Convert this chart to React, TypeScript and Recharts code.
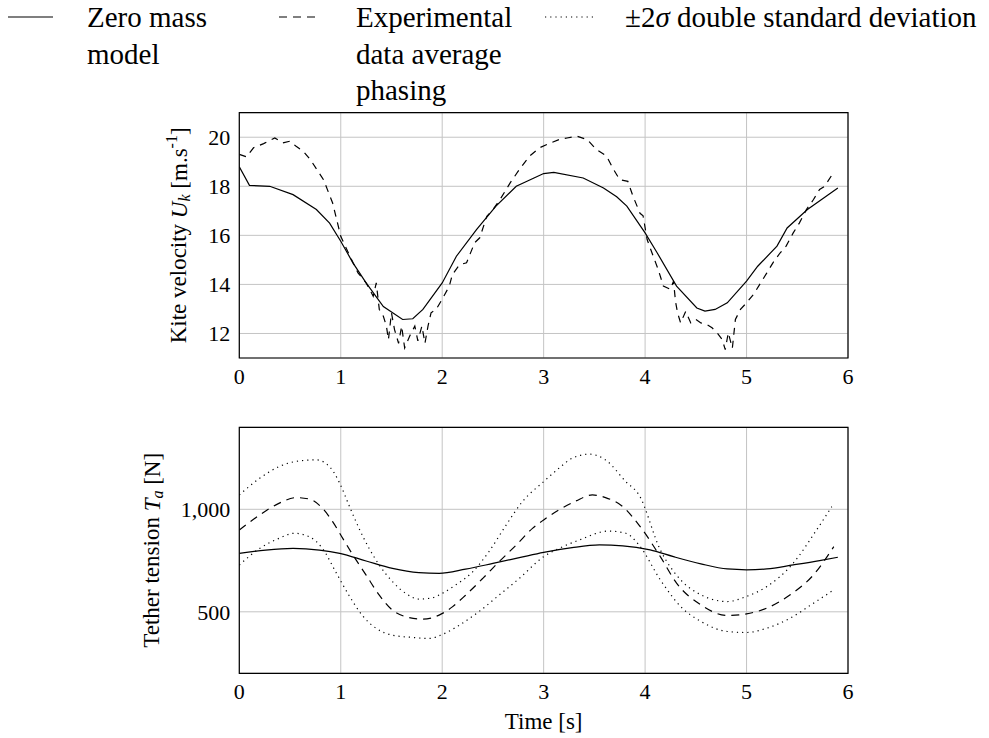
import React from "react";
import {
  LineChart,
  Line,
  XAxis,
  YAxis,
  CartesianGrid,
  ReferenceArea,
} from "recharts";

const FONT = "Liberation Serif, Tinos, Times New Roman, DejaVu Serif, serif";

const timeTicks = [0, 1, 2, 3, 4, 5, 6];
const velocityTicks = [12, 14, 16, 18, 20];
const tensionTicks = [500, 1000];

// top panel: kite velocity [t, U_k]
const velocityModel = [
  [0, 18.79], [0.1, 18.04], [0.3, 18.0], [0.53, 17.66], [0.76, 17.05], [0.89, 16.5],
  [1.0, 15.76], [1.12, 14.88], [1.25, 14.06], [1.42, 13.1], [1.61, 12.57], [1.71, 12.6],
  [1.81, 12.98], [2.0, 14.06], [2.14, 15.15], [2.34, 16.24], [2.53, 17.19], [2.73, 18.0],
  [3.0, 18.52], [3.1, 18.57], [3.39, 18.34], [3.59, 17.93], [3.72, 17.57], [3.82, 17.19],
  [4.0, 16.1], [4.12, 15.28], [4.31, 13.93], [4.51, 13.04], [4.59, 12.91], [4.69, 12.98],
  [4.81, 13.25], [5.0, 14.13], [5.11, 14.74], [5.3, 15.56], [5.4, 16.3], [5.6, 17.05],
  [5.9, 17.93],
];

const velocityExperiment = [
  [0.0, 19.3], [0.07, 19.2], [0.14, 19.57], [0.24, 19.74], [0.35, 19.97], [0.43, 19.77],
  [0.5, 19.84], [0.56, 19.63], [0.63, 19.43], [0.7, 19.09], [0.83, 18.27], [0.92, 17.32],
  [1.0, 15.96], [1.09, 15.15], [1.17, 14.47], [1.25, 14.06], [1.32, 13.52], [1.35, 14.06],
  [1.38, 12.98], [1.42, 12.7], [1.45, 12.3], [1.47, 11.75], [1.5, 12.84], [1.53, 12.16],
  [1.57, 11.6], [1.6, 12.3], [1.63, 11.41], [1.68, 11.9], [1.73, 12.3], [1.76, 11.7],
  [1.8, 12.3], [1.83, 11.6], [1.86, 12.3], [1.89, 12.84], [1.94, 12.98], [2.0, 13.4],
  [2.07, 13.93], [2.1, 14.4], [2.17, 14.8], [2.24, 14.88], [2.32, 15.7], [2.37, 15.9],
  [2.44, 16.78], [2.5, 17.05], [2.57, 17.46], [2.67, 18.14], [2.76, 18.68], [2.86, 19.23],
  [2.96, 19.57], [3.07, 19.77], [3.15, 19.9], [3.23, 19.97], [3.33, 20.04], [3.43, 19.9],
  [3.52, 19.5], [3.62, 19.23], [3.69, 18.68], [3.75, 18.27], [3.83, 18.2], [3.88, 17.6],
  [3.95, 16.9], [3.98, 16.8], [4.02, 15.83], [4.08, 15.15], [4.13, 14.6], [4.18, 13.93],
  [4.25, 13.8], [4.28, 14.13], [4.3, 13.3], [4.32, 12.84], [4.35, 12.43], [4.4, 12.9],
  [4.45, 12.43], [4.5, 12.57], [4.55, 12.43], [4.61, 12.36], [4.66, 12.23], [4.71, 12.03],
  [4.76, 11.75], [4.79, 11.34], [4.82, 12.03], [4.86, 11.4], [4.89, 12.57], [4.94, 12.98],
  [5.0, 13.25], [5.07, 13.6], [5.13, 14.0], [5.2, 14.47], [5.26, 14.88], [5.33, 15.28],
  [5.39, 15.56], [5.46, 16.1], [5.52, 16.5], [5.59, 17.05], [5.66, 17.46], [5.72, 17.87],
  [5.77, 18.0], [5.84, 18.45],
];

// bottom panel: tether tension [t, T_a]
const tensionModel = [
  [0, 785], [0.26, 801], [0.53, 809], [0.79, 801], [0.99, 785], [1.25, 748], [1.51, 712],
  [1.77, 691], [1.97, 687], [2.23, 708], [2.5, 736], [2.76, 764], [3.0, 790], [3.28, 813],
  [3.55, 826], [3.78, 822], [4.05, 802], [4.28, 769], [4.55, 734], [4.81, 709], [5.0, 705],
  [5.2, 709], [5.46, 729], [5.72, 750], [5.9, 766],
];

const tensionExperiment = [
  [0, 899], [0.2, 972], [0.39, 1029], [0.56, 1057], [0.69, 1050], [0.82, 1005], [0.92, 940],
  [1.02, 858], [1.12, 777], [1.25, 679], [1.38, 581], [1.51, 508], [1.64, 476], [1.81, 464],
  [1.97, 484], [2.1, 524], [2.23, 581], [2.4, 663], [2.56, 744], [2.73, 826], [2.89, 907],
  [3.0, 948], [3.15, 997], [3.32, 1041], [3.48, 1070], [3.61, 1057], [3.78, 1013],
  [3.94, 923], [4.15, 769], [4.31, 640], [4.55, 534], [4.81, 482], [5.0, 490], [5.2, 518],
  [5.43, 583], [5.66, 680], [5.86, 818],
];

const tensionUpper = [
  [0, 1070], [0.2, 1151], [0.39, 1208], [0.59, 1236], [0.76, 1241], [0.89, 1208],
  [0.99, 1127], [1.08, 1021], [1.18, 907], [1.28, 809], [1.38, 728], [1.51, 647],
  [1.64, 590], [1.77, 562], [1.9, 568], [2.0, 590], [2.13, 630], [2.3, 695], [2.46, 793],
  [2.63, 923], [2.79, 1037], [3.0, 1135], [3.15, 1200], [3.28, 1249], [3.45, 1269],
  [3.61, 1241], [3.81, 1135], [3.94, 1070], [4.15, 802], [4.35, 656], [4.55, 583],
  [4.81, 550], [5.0, 575], [5.2, 623], [5.46, 737], [5.69, 899], [5.84, 1013],
];

const tensionLower = [
  [0, 728], [0.2, 809], [0.39, 858], [0.54, 883], [0.69, 866], [0.82, 809], [0.95, 695],
  [1.08, 581], [1.21, 484], [1.35, 419], [1.51, 386], [1.71, 375], [1.87, 370], [2.0, 389],
  [2.17, 435], [2.36, 500], [2.56, 581], [2.76, 663], [3.0, 769], [3.15, 809], [3.35, 850],
  [3.64, 894], [3.81, 883], [3.94, 826], [4.15, 656], [4.35, 526], [4.55, 453], [4.81, 404],
  [5.0, 399], [5.2, 420], [5.43, 469], [5.66, 542], [5.86, 607],
];

const toPoints = (pairs: number[][]) => pairs.map(([t, v]) => ({ t, v }));

const tickStyle = { fontSize: 22, fill: "#000", fontFamily: FONT };

const VelocityTitle = (props: any) => {
  const vb = props.viewBox || { y: 112.7, height: 245.3 };
  const cx = 179;
  const cy = vb.y + vb.height / 2;
  return (
    <text
      x={cx}
      y={cy}
      transform={`rotate(-90 ${cx} ${cy})`}
      textAnchor="middle"
      dominantBaseline="central"
      fontFamily={FONT}
      fontSize={23}
      fill="#000"
    >
      Kite velocity <tspan fontStyle="italic">U</tspan>
      <tspan fontStyle="italic" fontSize={16} dy={5}>k</tspan>
      <tspan dy={-5}> [m.s</tspan>
      <tspan fontSize={16} dy={-8}>-1</tspan>
      <tspan dy={8}>]</tspan>
    </text>
  );
};

const TensionTitle = (props: any) => {
  const vb = props.viewBox || { y: 27.3, height: 246 };
  const cx = 152;
  const cy = vb.y + vb.height / 2;
  return (
    <text
      x={cx}
      y={cy}
      transform={`rotate(-90 ${cx} ${cy})`}
      textAnchor="middle"
      dominantBaseline="central"
      fontFamily={FONT}
      fontSize={23}
      fill="#000"
    >
      Tether tension <tspan fontStyle="italic">T</tspan>
      <tspan fontStyle="italic" fontSize={16} dy={5}>a</tspan>
      <tspan dy={-5}> [N]</tspan>
    </text>
  );
};

const TimeTitle = (props: any) => {
  const vb = props.viewBox || { x: 239.3, y: 273.3, width: 608.7 };
  return (
    <text
      x={vb.x + vb.width / 2}
      y={vb.y + 48.4}
      textAnchor="middle"
      dominantBaseline="central"
      fontFamily={FONT}
      fontSize={23}
      fill="#000"
    >
      Time [s]
    </text>
  );
};

const LegendBlock = () => (
  <div
    style={{
      position: "absolute",
      left: 0,
      top: 0,
      width: 989,
      height: 110,
      fontFamily: FONT,
      fontSize: 29,
      lineHeight: "36.7px",
      color: "#000",
    }}
  >
    <svg style={{ position: "absolute", left: 0, top: 0 }} width={989} height={40}>
      <line x1={8} x2={53} y1={17} y2={17} stroke="#000" strokeWidth={1.2} />
      <line x1={279} x2={316} y1={17} y2={17} stroke="#000" strokeWidth={1.2} strokeDasharray="8 6" />
      <line x1={545} x2={593} y1={17} y2={17} stroke="#000" strokeWidth={1.2} strokeDasharray="1.2 4" />
    </svg>
    <div style={{ position: "absolute", left: 87, top: -1, whiteSpace: "nowrap" }}>
      Zero mass
      <br />
      model
    </div>
    <div style={{ position: "absolute", left: 356, top: -1, whiteSpace: "nowrap" }}>
      Experimental
      <br />
      data average
      <br />
      phasing
    </div>
    <div style={{ position: "absolute", left: 625, top: -1, whiteSpace: "nowrap" }}>
      ±2<i>σ</i> double standard deviation
    </div>
  </div>
);

export default function App() {
  return (
    <div
      style={{
        position: "absolute",
        left: 0,
        top: 0,
        width: 989,
        height: 738,
        background: "#fff",
        overflow: "hidden",
      }}
    >
      <LegendBlock />

      <div style={{ position: "absolute", left: 0, top: 0 }}>
        <LineChart
          width={989}
          height={400}
          margin={{ top: 112.7, right: 141, bottom: 2, left: 0 }}
        >
          <CartesianGrid stroke="#c4c4c4" strokeWidth={1} />
          <XAxis
            dataKey="t"
            type="number"
            domain={[0, 6]}
            ticks={timeTicks}
            interval={0}
            tickLine={false}
            axisLine={false}
            tickMargin={4}
            height={40}
            tick={tickStyle}
            allowDataOverflow
          />
          <YAxis
            type="number"
            domain={[11, 21]}
            ticks={velocityTicks}
            interval={0}
            tickLine={false}
            axisLine={false}
            tickMargin={3}
            width={239.3}
            tick={tickStyle}
            allowDataOverflow
            label={VelocityTitle}
          />
          <ReferenceArea x1={0} x2={6} y1={11} y2={21} fill="none" stroke="#000" strokeWidth={1.2} />
          <Line
            data={toPoints(velocityModel)}
            dataKey="v"
            type="linear"
            stroke="#000"
            strokeWidth={1.2}
            dot={false}
            activeDot={false}
            isAnimationActive={false}
          />
          <Line
            data={toPoints(velocityExperiment)}
            dataKey="v"
            type="linear"
            stroke="#000"
            strokeWidth={1.2}
            strokeDasharray="7 6"
            dot={false}
            activeDot={false}
            isAnimationActive={false}
          />
        </LineChart>
      </div>

      <div style={{ position: "absolute", left: 0, top: 400 }}>
        <LineChart
          width={989}
          height={338}
          margin={{ top: 27.3, right: 141, bottom: 4.7, left: 0 }}
        >
          <CartesianGrid stroke="#c4c4c4" strokeWidth={1} />
          <XAxis
            dataKey="t"
            type="number"
            domain={[0, 6]}
            ticks={timeTicks}
            interval={0}
            tickLine={false}
            axisLine={false}
            tickMargin={4}
            height={60}
            tick={tickStyle}
            allowDataOverflow
            label={TimeTitle}
          />
          <YAxis
            type="number"
            domain={[200, 1400]}
            ticks={tensionTicks}
            interval={0}
            tickLine={false}
            axisLine={false}
            tickMargin={3}
            width={239.3}
            tick={tickStyle}
            tickFormatter={(v: number) => v.toLocaleString("en-US")}
            allowDataOverflow
            label={TensionTitle}
          />
          <ReferenceArea x1={0} x2={6} y1={200} y2={1400} fill="none" stroke="#000" strokeWidth={1.2} />
          <Line
            data={toPoints(tensionUpper)}
            dataKey="v"
            type="monotone"
            stroke="#000"
            strokeWidth={1.2}
            strokeDasharray="1.2 4"
            dot={false}
            activeDot={false}
            isAnimationActive={false}
          />
          <Line
            data={toPoints(tensionLower)}
            dataKey="v"
            type="monotone"
            stroke="#000"
            strokeWidth={1.2}
            strokeDasharray="1.2 4"
            dot={false}
            activeDot={false}
            isAnimationActive={false}
          />
          <Line
            data={toPoints(tensionExperiment)}
            dataKey="v"
            type="monotone"
            stroke="#000"
            strokeWidth={1.2}
            strokeDasharray="8 6"
            dot={false}
            activeDot={false}
            isAnimationActive={false}
          />
          <Line
            data={toPoints(tensionModel)}
            dataKey="v"
            type="monotone"
            stroke="#000"
            strokeWidth={1.2}
            dot={false}
            activeDot={false}
            isAnimationActive={false}
          />
        </LineChart>
      </div>
    </div>
  );
}
